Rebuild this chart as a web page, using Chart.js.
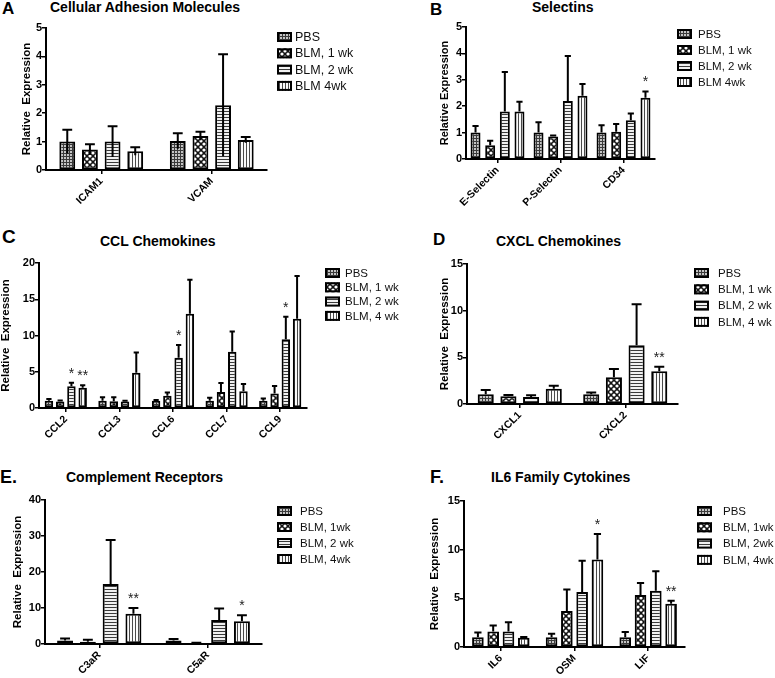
<!DOCTYPE html>
<html><head><meta charset="utf-8">
<script src="https://cdn.jsdelivr.net/npm/chart.js@4.4.1/dist/chart.umd.min.js"></script>
<style>
html,body{margin:0;padding:0;background:#fff}
body{width:775px;height:678px;position:relative;overflow:hidden;font-family:"Liberation Sans",Arial,sans-serif}
.t{position:absolute;font-weight:bold;color:#000;white-space:nowrap;line-height:1}
</style></head><body>
<div class="t" style="left:2px;top:0px;font-size:17px">A</div>
<div class="t" style="left:50px;top:0px;font-size:14px">Cellular Adhesion Molecules</div>
<div class="t" style="left:430px;top:1px;font-size:17px">B</div>
<div class="t" style="left:532px;top:0px;font-size:14px">Selectins</div>
<div class="t" style="left:2px;top:227px;font-size:19px">C</div>
<div class="t" style="left:100px;top:234px;font-size:14px">CCL Chemokines</div>
<div class="t" style="left:433px;top:231px;font-size:17px">D</div>
<div class="t" style="left:496px;top:234px;font-size:14px">CXCL Chemokines</div>
<div class="t" style="left:0px;top:468px;font-size:18px">E.</div>
<div class="t" style="left:66px;top:470px;font-size:14px">Complement Receptors</div>
<div class="t" style="left:430px;top:468px;font-size:18px">F.</div>
<div class="t" style="left:491px;top:470px;font-size:14px">IL6 Family Cytokines</div>
<script>
// ---------- DATA ----------
// A: Cellular Adhesion Molecules
const aCategories = ['ICAM1', 'VCAM'];
const aLegend = ['PBS', 'BLM, 1 wk', 'BLM, 2 wk', 'BLM 4wk'];
const aMeans  = [[1.0, 1.02], [0.72, 1.2], [1.0, 2.28], [0.66, 1.06]];
const aErrors = [[0.42, 0.27], [0.19, 0.15], [0.54, 1.8], [0.14, 0.1]];
const aStars  = [['', ''], ['', ''], ['', ''], ['', '']];
const aYTicks = [0, 5, 1];

// B: Selectins
const bCategories = ['E-Selectin', 'P-Selectin', 'CD34'];
const bLegend = ['PBS', 'BLM, 1 wk', 'BLM, 2 wk', 'BLM 4wk'];
const bMeans  = [[1.0, 1.0, 1.0], [0.52, 0.85, 1.03], [1.8, 2.2, 1.47], [1.8, 2.4, 2.32]];
const bErrors = [[0.25, 0.39, 0.28], [0.17, 0.04, 0.3], [1.5, 1.7, 0.25], [0.37, 0.44, 0.24]];
const bStars  = [['', '', ''], ['', '', ''], ['', '', ''], ['', '', '*']];
const bYTicks = [0, 5, 1];

// C: CCL Chemokines
const cCategories = ['CCL2', 'CCL3', 'CCL6', 'CCL7', 'CCL9'];
const cLegend = ['PBS', 'BLM, 1 wk', 'BLM, 2 wk', 'BLM, 4 wk'];
const cMeans  = [[1.0, 1.0, 1.0, 1.0, 1.0], [0.9, 0.92, 1.7, 2.2, 2.0], [3.0, 0.9, 6.93, 7.76, 9.47], [2.8, 4.85, 13.0, 2.3, 12.3]];
const cErrors = [[0.25, 0.5, 0.1, 0.4, 0.3], [0.15, 0.55, 0.45, 1.25, 1.05], [0.5, 0.1, 1.75, 2.8, 3.1], [0.35, 2.8, 4.7, 1.0, 5.9]];
const cStars  = [['', '', '', '', ''], ['', '', '', '', ''], ['*', '', '*', '', '*'], ['**', '', '', '', '']];
const cYTicks = [0, 20, 5];

// D: CXCL Chemokines
const dCategories = ['CXCL1', 'CXCL2'];
const dLegend = ['PBS', 'BLM, 1 wk', 'BLM, 2 wk', 'BLM, 4 wk'];
const dMeans  = [[1.04, 1.04], [0.82, 2.86], [0.75, 6.29], [1.64, 3.5]];
const dErrors = [[0.45, 0.2], [0.14, 0.9], [0.18, 4.4], [0.32, 0.5]];
const dStars  = [['', ''], ['', ''], ['', ''], ['', '**']];
const dYTicks = [0, 15, 5];

// E: Complement Receptors
const eCategories = ['C3aR', 'C5aR'];
const eLegend = ['PBS', 'BLM, 1wk', 'BLM, 2 wk', 'BLM, 4wk'];
const eMeans  = [[1.0, 1.0], [0.65, 0.28], [16.7, 6.65], [8.4, 6.3]];
const eErrors = [[0.55, 0.4], [0.55, 0.05], [12.2, 3.2], [1.6, 1.7]];
const eStars  = [['', ''], ['', ''], ['', ''], ['**', '*']];
const eYTicks = [0, 40, 10];

// F: IL6 Family Cytokines
const fCategories = ['IL6', 'OSM', 'LIF'];
const fLegend = ['PBS', 'BLM, 1wk', 'BLM, 2wk', 'BLM, 4wk'];
const fMeans  = [[1.0, 1.0, 1.0], [1.6, 3.7, 5.34], [1.6, 5.65, 5.79], [0.96, 9.0, 4.45]];
const fErrors = [[0.5, 0.35, 0.55], [0.6, 2.2, 1.23], [0.95, 3.2, 2.0], [0.07, 2.6, 0.3]];
const fStars  = [['', '', ''], ['', '', ''], ['', '', ''], ['', '*', '**']];
const fYTicks = [0, 15, 5];

// ---------- STYLE ----------
const FONT = '"Liberation Sans", Arial, sans-serif';
Chart.defaults.font.family = FONT;
Chart.defaults.color = '#000';

function makePattern(w, h, draw) {
  const c = document.createElement('canvas');
  c.width = w; c.height = h;
  const g = c.getContext('2d');
  draw(g);
  return document.createElement('canvas').getContext('2d').createPattern(c, 'repeat');
}
const patterns = [
  makePattern(3, 3, g => { g.fillStyle = '#c4c4c4'; g.fillRect(0,0,3,3); g.fillStyle = '#3a3a3a'; g.fillRect(0,0,3,1); g.fillRect(0,0,1,3); }),
  makePattern(6, 6, g => { g.fillStyle = '#111'; g.fillRect(0,0,6,6); g.fillStyle = '#fff';
    [[0,0],[6,0],[0,6],[6,6],[3,3]].forEach(([x,y]) => { g.beginPath(); g.arc(x,y,1.6,0,Math.PI*2); g.fill(); }); }),
  makePattern(3, 3, g => { g.fillStyle = '#f0f0f0'; g.fillRect(0,0,3,3); g.fillStyle = '#3a3a3a'; g.fillRect(0,0,3,1); }),
  makePattern(3, 3, g => { g.fillStyle = '#fafafa'; g.fillRect(0,0,3,3); g.fillStyle = '#4a4a4a'; g.fillRect(0,0,1,3); })
];

const errPlugin = {
  id: 'errbars',
  afterDatasetsDraw(chart, args, o) {
    const ctx = chart.ctx, ys = chart.scales.y;
    ctx.save();
    chart.data.datasets.forEach((ds, i) => {
      const meta = chart.getDatasetMeta(i);
      meta.data.forEach((bar, j) => {
        const m = ds.data[j], e = ds.errors[j];
        const yTop = ys.getPixelForValue(m + e);
        const yBot = o.below ? ys.getPixelForValue(Math.max(m - e, 0)) : bar.y;
        const cap = bar.width * 0.62;
        ctx.strokeStyle = '#000'; ctx.lineWidth = 2;
        ctx.beginPath();
        ctx.moveTo(bar.x, yBot); ctx.lineTo(bar.x, yTop);
        ctx.moveTo(bar.x - cap / 2, yTop); ctx.lineTo(bar.x + cap / 2, yTop);
        ctx.stroke();
        const s = ds.stars[j];
        if (s) {
          ctx.fillStyle = '#222'; ctx.font = '14px ' + FONT;
          ctx.textAlign = 'center'; ctx.textBaseline = 'alphabetic';
          ctx.fillText(s, bar.x, yTop - 5);
        }
      });
    });
    ctx.restore();
  }
};

const legendPlugin = {
  id: 'patLegend',
  afterDraw(chart, args, o) {
    const ctx = chart.ctx;
    ctx.save();
    chart.data.datasets.forEach((ds, i) => {
      const cy = o.y0 + i * o.dy;
      ctx.fillStyle = ds.backgroundColor;
      ctx.fillRect(o.x, cy - 5, 15, 10);
      ctx.strokeStyle = '#000'; ctx.lineWidth = 2;
      ctx.strokeRect(o.x + 1, cy - 4, 13, 8);
      ctx.fillStyle = '#111'; ctx.font = o.size + 'px ' + FONT;
      ctx.textAlign = 'left'; ctx.textBaseline = 'middle';
      ctx.fillText(ds.label, o.x + o.tx, cy + 0.5);
    });
    ctx.restore();
  }
};

function makeChart(p) {
  const cv = document.createElement('canvas');
  cv.width = p.W; cv.height = p.H;
  cv.style.cssText = `position:absolute;left:${p.L}px;top:${p.T}px;width:${p.W}px;height:${p.H}px`;
  document.body.appendChild(cv);
  const padLeft = Math.max(0, p.titleCx - p.L - p.yTitleSize / 2);
  const yw = p.ax - p.L - padLeft;
  const xh = p.T + p.H - p.ab;
  new Chart(cv, {
    type: 'bar',
    data: {
      labels: p.categories,
      datasets: p.means.map((m, i) => ({
        label: p.legend[i], data: m, errors: p.errors[i], stars: p.stars[i],
        backgroundColor: patterns[i], borderColor: '#000', borderWidth: 2, borderSkipped: false,
        categoryPercentage: p.catPct, barPercentage: p.barPct
      }))
    },
    options: {
      responsive: false, animation: false, devicePixelRatio: 1,
      layout: { padding: { left: padLeft, top: p.at - p.T, right: p.L + p.W - p.ar, bottom: 0 } },
      plugins: {
        legend: { display: false }, tooltip: { enabled: false }, title: { display: false },
        errbars: { below: p.below },
        patLegend: { x: p.legX - p.L, y0: p.legY0 - p.T, dy: p.legDy, tx: p.legTx, size: p.legSize }
      },
      scales: {
        x: {
          type: 'category', offset: true,
          grid: { display: true, drawOnChartArea: false, drawTicks: true, tickLength: 4, offset: false, color: '#000', lineWidth: 1.5 },
          border: { display: true, color: '#000', width: 2 },
          ticks: { color: '#000', font: { size: 10.5, weight: 'bold' }, minRotation: 45, maxRotation: 45, padding: 1, autoSkip: false },
          afterFit: s => { s.height = xh; }
        },
        y: {
          min: p.yTicks[0], max: p.yTicks[1],
          ticks: { stepSize: p.yTicks[2], color: '#000', font: { size: 11, weight: 'bold' }, padding: 0 },
          grid: { display: true, drawOnChartArea: false, drawTicks: true, tickLength: 4, color: '#000', lineWidth: 1.5 },
          border: { display: true, color: '#000', width: 2 },
          title: { display: true, text: p.yTitle, color: '#000', font: { size: p.yTitleSize, weight: 'bold', lineHeight: 1 }, padding: 0 },
          afterFit: s => { s.width = yw; }
        }
      }
    },
    plugins: [errPlugin, legendPlugin]
  });
}

makeChart({ L: 0, T: 0, W: 410, H: 215, ax: 46, at: 28, ar: 267, ab: 170,
  titleCx: 27, yTitleSize: 11.5, yTitle: 'Relative  Expression', catPct: 0.82, barPct: 0.7, below: true,
  legX: 277, legY0: 37, legDy: 16.3, legTx: 18, legSize: 12.5,
  categories: aCategories, legend: aLegend, means: aMeans, errors: aErrors, stars: aStars, yTicks: aYTicks });

makeChart({ L: 410, T: 0, W: 365, H: 215, ax: 466, at: 27, ar: 655, ab: 159,
  titleCx: 445, yTitleSize: 11, yTitle: 'Relative Expression', catPct: 0.93, barPct: 0.68, below: false,
  legX: 677, legY0: 34, legDy: 16, legTx: 21, legSize: 11.5,
  categories: bCategories, legend: bLegend, means: bMeans, errors: bErrors, stars: bStars, yTicks: bYTicks });

makeChart({ L: 0, T: 215, W: 410, H: 230, ax: 39, at: 263, ar: 307, ab: 408,
  titleCx: 6, yTitleSize: 11.5, yTitle: 'Relative  Expression', catPct: 0.84, barPct: 0.75, below: false,
  legX: 325, legY0: 273, legDy: 14.3, legTx: 20, legSize: 11.5,
  categories: cCategories, legend: cLegend, means: cMeans, errors: cErrors, stars: cStars, yTicks: cYTicks });

makeChart({ L: 410, T: 215, W: 365, H: 230, ax: 467, at: 264, ar: 678, ab: 404,
  titleCx: 445, yTitleSize: 11.5, yTitle: 'Relative  Expression', catPct: 0.86, barPct: 0.71, below: false,
  legX: 694, legY0: 273, legDy: 16.3, legTx: 24, legSize: 11.5,
  categories: dCategories, legend: dLegend, means: dMeans, errors: dErrors, stars: dStars, yTicks: dYTicks });

makeChart({ L: 0, T: 445, W: 410, H: 233, ax: 45, at: 500, ar: 262, ab: 644,
  titleCx: 18, yTitleSize: 11.5, yTitle: 'Relative  Expression', catPct: 0.84, barPct: 0.7, below: false,
  legX: 277, legY0: 511, legDy: 16, legTx: 23, legSize: 11.5,
  categories: eCategories, legend: eLegend, means: eMeans, errors: eErrors, stars: eStars, yTicks: eYTicks });

makeChart({ L: 410, T: 445, W: 365, H: 233, ax: 464, at: 501, ar: 685, ab: 647,
  titleCx: 435, yTitleSize: 11.5, yTitle: 'Relative  Expression', catPct: 0.83, barPct: 0.76, below: false,
  legX: 697, legY0: 511, legDy: 16.3, legTx: 26, legSize: 11.5,
  categories: fCategories, legend: fLegend, means: fMeans, errors: fErrors, stars: fStars, yTicks: fYTicks });
</script>
</body></html>
